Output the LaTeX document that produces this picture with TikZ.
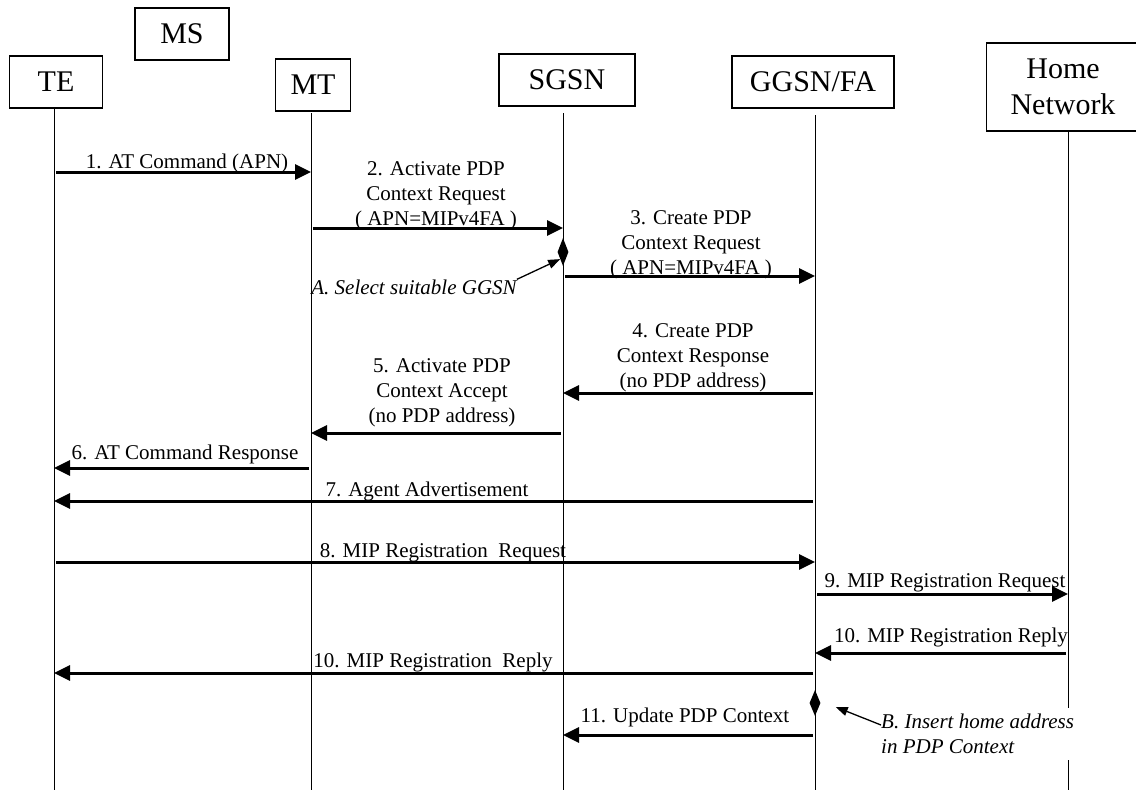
\documentclass[tikz,border=0pt]{standalone}
\usepackage{fontspec}
\setmainfont{Liberation Serif}
\usepackage{tikz}
\usetikzlibrary{shapes.geometric, arrows.meta}

\tikzset{
  entity/.style={draw, line width=1.2pt, inner sep=0pt, align=center, font=\fontsize{30}{36}\selectfont},
  life/.style={line width=0.9pt},
  msg/.style={line width=3pt, -{Triangle[length=16pt,width=15pt]}, shorten <=2pt},
  msglabel/.style={align=center, inner sep=0pt, font=\fontsize{21}{25}\selectfont},
  event/.style={diamond, fill=black, inner sep=0pt, minimum width=11pt},
  remark/.style={align=left, inner sep=0pt, font=\fontsize{21}{25}\selectfont\itshape},
  pointer/.style={line width=1.3pt, -{Triangle[length=12pt,width=9pt]}}
}

\begin{document}
\begin{tikzpicture}[x=1pt,y=-1pt]
\useasboundingbox (0,0) rectangle (1136,790);
% entities
\node[entity, minimum width=94pt, minimum height=52pt] (ms) at (182,34) {MS};
\node[entity, minimum width=93pt, minimum height=52pt] (te) at (56,82) {TE};
\node[entity, minimum width=75pt, minimum height=52pt] (mt) at (313,85) {MT};
\node[entity, minimum width=136pt, minimum height=52pt] (sgsn) at (567,80) {SGSN};
\node[entity, minimum width=162pt, minimum height=52pt] (ggsn) at (813,82) {GGSN/FA};
\node[entity, minimum width=153pt, minimum height=88pt] (home) at (1063,87) {Home\\Network};
\coordinate (teL) at (54,0);
\coordinate (mtL) at (311,0);
\coordinate (sgsnL) at (563,0);
\coordinate (ggsnL) at (815,0);
\coordinate (homeL) at (1068,0);
% lifelines
\draw[life] (teL |- te.south) -- (teL |- 0,790);
\draw[life] (mtL |- 0,113) -- (mtL |- 0,790);
\draw[life] (sgsnL |- 0,113) -- (sgsnL |- 0,790);
\draw[life] (ggsnL |- 0,115) -- (ggsnL |- 0,790);
\draw[life] (homeL |- home.south) -- (homeL |- 0,790);
% messages
\draw[msg] (teL |- 0,172) -- (mtL |- 0,172);
\node[msglabel] (m1) at (187,163) {1. AT Command (APN)};
\draw[msg] (mtL |- 0,228) -- (sgsnL |- 0,228);
\node[msglabel] (m2) at (436,196) {2. Activate PDP\\Context Request\\( APN=MIPv4FA )};
\node[event, minimum height=28pt] (selA) at (563,252) {};
\node[remark] (noteA) at (414,287) {A. Select suitable GGSN};
\draw[pointer] (noteA.north east) -- (selA.south west);
\draw[msg] (sgsnL |- 0,276) -- (ggsnL |- 0,276);
\node[msglabel] (m3) at (691,245) {3. Create PDP\\Context Request\\( APN=MIPv4FA )};
\draw[msg] (ggsnL |- 0,393) -- (sgsnL |- 0,393);
\node[msglabel] (m4) at (693,358) {4. Create PDP\\Context Response\\(no PDP address)};
\draw[msg] (sgsnL |- 0,433) -- (mtL |- 0,433);
\node[msglabel] (m5) at (442,393) {5. Activate PDP\\Context Accept\\(no PDP address)};
\draw[msg] (mtL |- 0,468) -- (teL |- 0,468);
\node[msglabel] (m6) at (185,454) {6. AT Command Response};
\draw[msg] (ggsnL |- 0,501) -- (teL |- 0,501);
\node[msglabel] (m7) at (427,491) {7. Agent Advertisement};
\draw[msg] (teL |- 0,562) -- (ggsnL |- 0,562);
\node[msglabel] (m8) at (443,553) {8. MIP Registration~ Request};
\draw[msg] (ggsnL |- 0,594) -- (homeL |- 0,594);
\node[msglabel] (m9) at (945,583) {9. MIP Registration Request};
\draw[msg] (homeL |- 0,653) -- (ggsnL |- 0,653);
\node[msglabel] (m10a) at (951,637) {10. MIP Registration Reply};
\draw[msg] (ggsnL |- 0,673) -- (teL |- 0,673);
\node[msglabel] (m10b) at (433,662) {10. MIP Registration~ Reply};
\node[event, minimum height=26pt] (selB) at (815,703) {};
\draw[msg] (ggsnL |- 0,735) -- (sgsnL |- 0,735);
\node[msglabel] (m11) at (685,717) {11. Update PDP Context};
\node[remark, fill=white, inner sep=6pt, anchor=west] (noteB) at (875,734) {B. Insert home address\\in PDP Context};
\draw[pointer] ([xshift=6pt,yshift=9pt]noteB.west) -- ([xshift=15pt,yshift=-4pt]selB.east);
\end{tikzpicture}
\end{document}
